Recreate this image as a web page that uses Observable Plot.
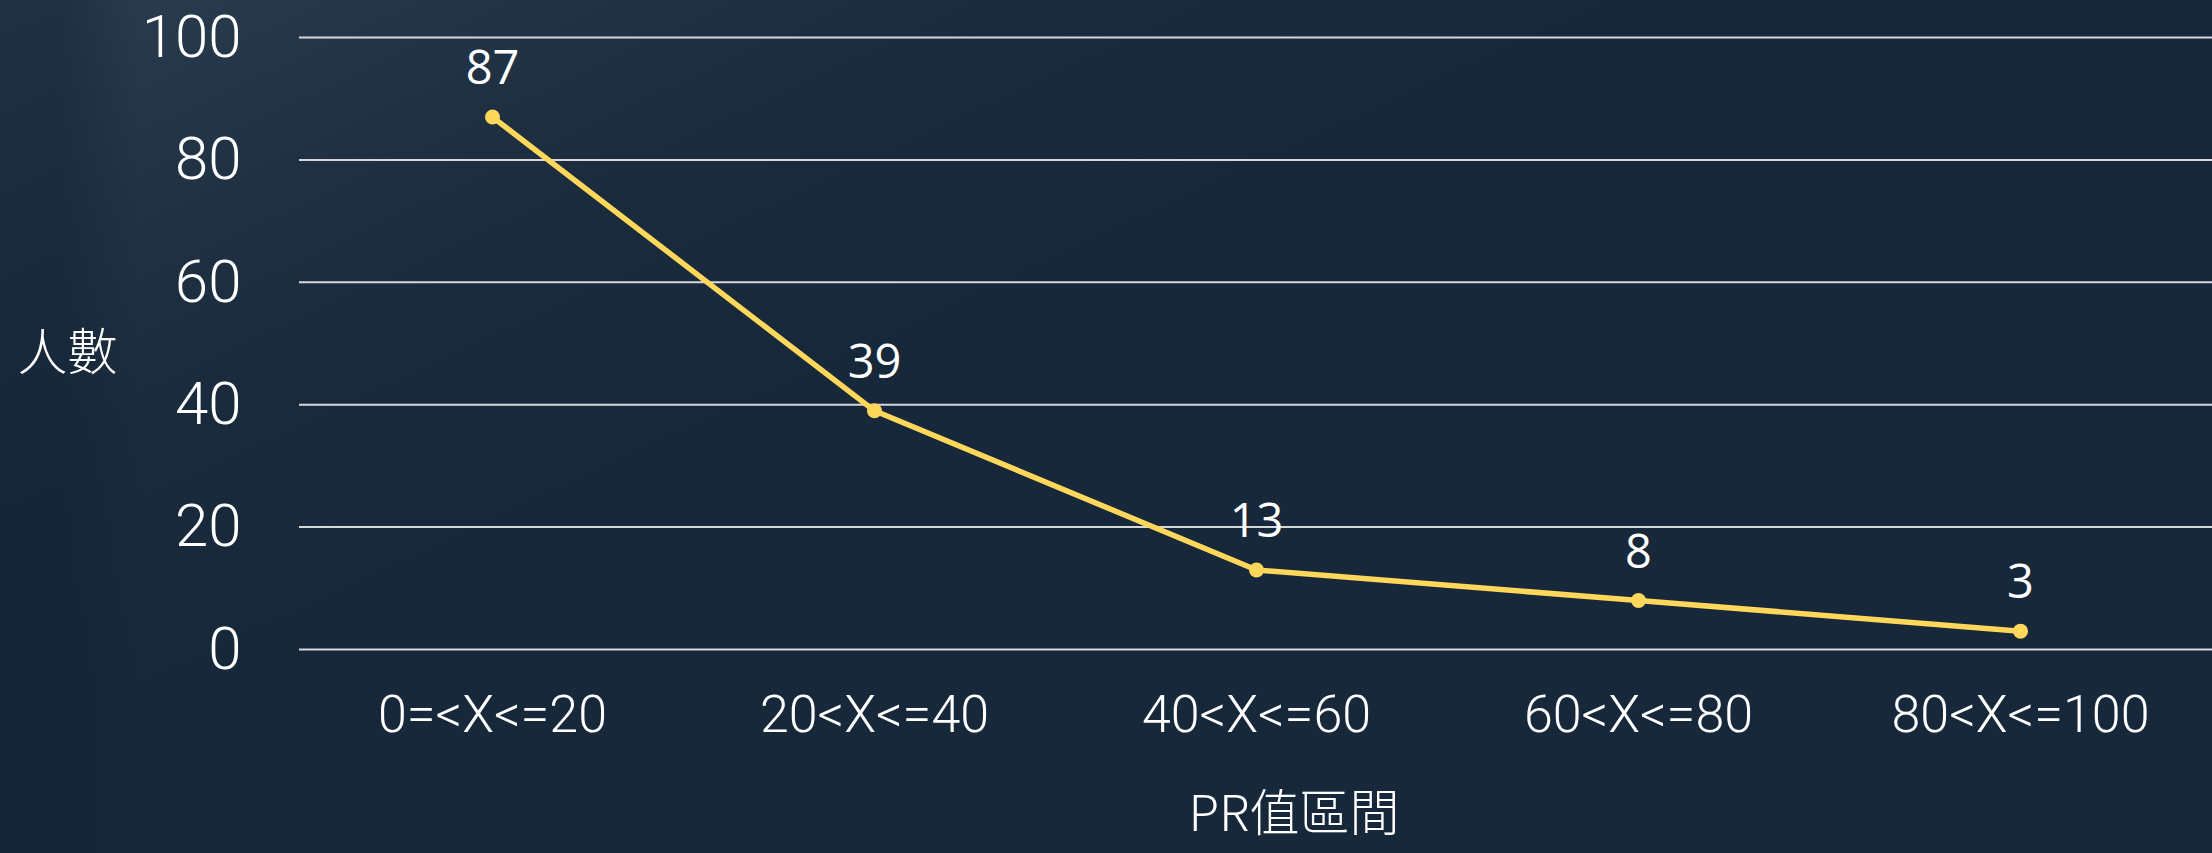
<!DOCTYPE html>
<html>
<head>
<meta charset="utf-8">
<script src="https://cdn.jsdelivr.net/npm/d3@7"></script>
<script src="https://cdn.jsdelivr.net/npm/@observablehq/plot@0.6"></script>
<style>
  html, body { margin: 0; padding: 0; }
  body {
    width: 2212px; height: 853px; overflow: hidden; position: relative;
    background: #17283a;
  }
  #bg {
    position: absolute; left: 0; top: 0; width: 2212px; height: 853px;
    background:
      linear-gradient(90deg, rgba(18,32,52,0.45) 0px, rgba(18,32,52,0.45) 60px, rgba(0,0,0,0) 140px),
      linear-gradient(155deg, rgba(70,88,108,0.45) 0%, rgba(55,74,94,0.30) 14%, rgba(40,58,78,0.15) 26%, rgba(23,40,58,0) 40%);
  }
  #chart { position: absolute; left: 0; top: 0; }
</style>
</head>
<body>
<div id="bg"></div>
<div id="chart"></div>
<script>
const categories = ["0=<X<=20", "20<X<=40", "40<X<=60", "60<X<=80", "80<X<=100"];
const counts = [87, 39, 13, 8, 3];
const yTicks = [0, 20, 40, 60, 80, 100];
const yTitle = "人數";
const xTitle = "PR值區間";

const data = categories.map((c, i) => ({cat: c, n: counts[i]}));

const plot = Plot.plot({
  width: 2212,
  height: 853,
  marginLeft: 299,
  marginRight: 0,
  marginTop: 37,
  marginBottom: 204,
  style: {background: "transparent", color: "#ffffff", overflow: "visible"},
  x: {type: "point", domain: categories, padding: 0.5, label: null},
  y: {domain: [0, 100], label: null},
  marks: [
    Plot.ruleY(yTicks, {stroke: "#d6d8db", strokeWidth: 2}),
    Plot.axisY({
      ticks: yTicks, tickSize: 0, tickPadding: 58, label: null,
      fontSize: 60, fontFamily: "Roboto", fontWeight: 300, fill: "#ffffff"
    }),
    Plot.axisX({
      tickSize: 0, tickPadding: 46, label: null,
      fontSize: 52, fontFamily: "Roboto", fontWeight: 300, fill: "#ffffff"
    }),
    Plot.line(data, {x: "cat", y: "n", stroke: "#ffd75a", strokeWidth: 5.5}),
    Plot.dot(data, {x: "cat", y: "n", r: 7.5, fill: "#ffd75a", stroke: "none"}),
    Plot.text(data, {
      x: "cat", y: "n", text: d => String(d.n), dy: -48,
      fontSize: 47, fontFamily: "Open Sans", fill: "#ffffff"
    }),
    Plot.text([yTitle], {
      frameAnchor: "left", text: d => d, dx: -232, dy: 10, textAnchor: "middle",
      fontSize: 50, fontFamily: "Noto Sans CJK TC", fontWeight: 300, fill: "#ffffff"
    }),
    Plot.text([xTitle], {
      frameAnchor: "bottom", text: d => d, dx: 38, dy: 146, lineAnchor: "top",
      fontSize: 50, fontFamily: "Noto Sans CJK TC", fontWeight: 300, fill: "#ffffff"
    })
  ]
});
document.getElementById("chart").appendChild(plot);
</script>
</body>
</html>
